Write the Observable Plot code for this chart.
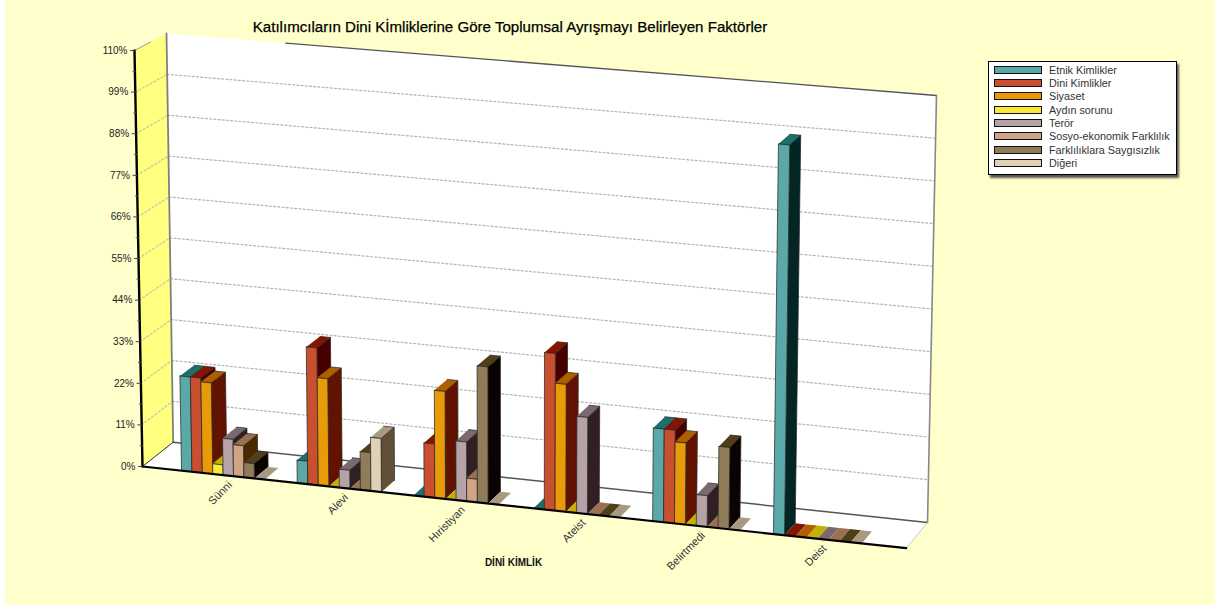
<!DOCTYPE html>
<html lang="tr">
<head>
<meta charset="utf-8">
<script src="https://cdn.jsdelivr.net/npm/d3@7"></script>
<script src="https://cdn.jsdelivr.net/npm/@observablehq/plot@0.6"></script>
<style>
html,body{margin:0;padding:0;background:#fff;width:1215px;height:608px;overflow:hidden;font-family:"Liberation Sans",Arial,sans-serif}
#panel{position:absolute;left:5px;top:0;width:1210px;height:605px;background:#ffffcc}
#chart{position:absolute;left:0;top:0}
#chart svg{background:transparent;display:block}
#legend{position:absolute;left:988px;top:61px;width:187px;height:112px;background:#fff;border:1px solid #000;box-shadow:2px 3px 2px #555;box-sizing:content-box}
.row{position:absolute;left:5px;height:13px;display:flex;align-items:center;font-size:10.8px;color:#333;white-space:nowrap}
.sw{width:46px;height:6px;border:1px solid #111;margin-right:7px;flex:none}
</style>
</head>
<body>
<div id="panel"></div>
<div id="chart"></div>
<div id="legend"></div>
<script>
const categories = ["Sünni","Alevi","Hıristiyan","Ateist","Belirtmedi","Deist"];
const seriesNames = ["Etnik Kimlikler","Dini Kimlikler","Siyaset","Aydın sorunu","Terör","Sosyo-ekonomik Farklılık","Farklılıklara Saygısızlık","Diğeri"];
const etnik  = [25,   6,    0,    0,    24, 100];
const dini   = [25,   36,   14,   40.7, 24, 0];
const siyaset= [24,   28.2, 28,   33,   21, 0];
const aydin  = [2.7,  0,    0,    0,    0,  0];
const teror  = [9.7,  4.8,  15.4, 25,   8,  0];
const sosyo  = [8.3,  0,    6,    0,    0,  0];
const saygi  = [3.9,  10,   35.5, 0,    21, 0];
const diger  = [0,    14,   0,    0,    0,  0];
const seriesValues = [etnik,dini,siyaset,aydin,teror,sosyo,saygi,diger];
const frontColors = ["#5ba8a8","#c9502f","#e99a08","#f8e838","#b5a3a8","#d0a484","#8f7d5a","#e0d0b8"];
const topColors   = ["#1f6e6c","#851400","#b05f00","#c4b000","#7a6a70","#9b7050","#50401a","#a89a80"];
const sideColors  = ["#032524","#470000","#621300","#6a6000","#302022","#4a2800","#0b0300","#5f5038"];
const yTicks = [0,11,22,33,44,55,66,77,88,99,110];
const minorTicks = d3.range(5.5,110,11);

// perspective box of the 3D chart: each corner of the front and back planes
const frontBL=[142,466], frontBR=[905.7,547.7], frontTL=[134,50], frontTR=[914,116];
const backBL=[172.7,441.7], backBR=[927,522], backTL=[166,33], backTR=[936,95];
const lerp=(a,b,t)=>a+(b-a)*t, lerp2=(p,q,t)=>[lerp(p[0],q[0],t),lerp(p[1],q[1],t)];
// u along the category axis (0..1), value in percent, w depth (0 front .. 1 back)
function P(u,value,w){
  const v=value/110;
  const f=lerp2(lerp2(frontBL,frontBR,u),lerp2(frontTL,frontTR,u),v);
  const b=lerp2(lerp2(backBL,backBR,u),lerp2(backTL,backTR,u),v);
  return lerp2(f,b,w);
}
const groupStarts=[0.0511,0.2026,0.3548,0.512,0.668,0.8262];
const barStep=i=>0.01362*(1+0.012*i), barDepth=0.47;

let polyId=0;
let polys=[];
function poly(corners,fill,stroke){
  const id=polyId++;
  corners.forEach(c=>{const p=P(c[0],c[1],c[2]);polys.push({id,x:p[0],y:p[1],fill,stroke});});
}
let segs=[];
let segId=0;
function seg(a,b,stroke,width,dash){
  const id=segId++;
  [a,b].forEach(c=>{const p=P(c[0],c[1],c[2]);segs.push({id,x:p[0],y:p[1],stroke,width,dash});});
}
// walls and floor
poly([[0,0,0],[0,110,0],[0,110,1],[0,0,1]],"#ffff80","none");
poly([[0,0,1],[0,110,1],[1,110,1],[1,0,1]],"#ffffff","none");
poly([[0,0,0],[1,0,0],[1,0,1],[0,0,1]],"#ffffff","none");
const wallPolys=polys; polys=[];
// gridlines
yTicks.slice(1,-1).forEach(t=>{
  seg([0,t,0],[0,t,1],"#c4c4a8",1.2,"2 2.2");
  seg([0,t,1],[1,t,1],"#b4b4b4",1.2,"2 2.2");
});
seg([0.155,110,1],[1,110,1],"#555",1.3,null);
seg([1,110,1],[1,0,1],"#888",1.6,null);
seg([0,110,1],[0,0,1],"#808080",1.8,null);
seg([0,0,1],[1,0,1],"#555",1.5,null);
seg([1,0,0],[1,0,1],"#ccc",1,null);
seg([0,110,0],[0,110,0.5],"#999",1,null);
seg([0,0,0],[0,0,1],"#333",1,null);
const wallSegs=segs; segs=[];
// bars, painted from left to right
categories.forEach((c,i)=>{
  seriesNames.forEach((s,j)=>{
    const val=seriesValues[j][i];
    const u0=groupStarts[i]+j*barStep(i), u1=u0+barStep(i), d=barDepth;
    const edge=val>0?"#2a2a2a":"none";
    poly([[u1,0,0],[u1,val,0],[u1,val,d],[u1,0,d]],sideColors[j],edge);
    poly([[u0,val,0],[u1,val,0],[u1,val,d],[u0,val,d]],topColors[j],edge);
    poly([[u0,0,0],[u0,val,0],[u1,val,0],[u1,0,0]],frontColors[j],edge);
  });
});
const barPolys=polys;
// axes on top
seg([0,0,0],[0,110,0],"#000",2.4,null);
seg([0,0,0],[1,0,0],"#000",2.2,null);
yTicks.forEach(t=>{const p=P(0,t,0);segs.push({id:"t"+t,x:p[0]-4,y:p[1],stroke:"#444",width:1,dash:null},{id:"t"+t,x:p[0],y:p[1],stroke:"#444",width:1,dash:null});});
minorTicks.forEach(t=>{const p=P(0,t,0);segs.push({id:"m"+t,x:p[0]-2,y:p[1],stroke:"#555",width:1,dash:null},{id:"m"+t,x:p[0],y:p[1],stroke:"#555",width:1,dash:null});});

const lineMark=(data)=>d3.groups(data,d=>d.id).map(([id,pts])=>Plot.line(pts,{x:"x",y:"y",stroke:pts[0].stroke,strokeWidth:pts[0].width,strokeDasharray:pts[0].dash||undefined}));
const polyMark=(data)=>Plot.line(data,{x:"x",y:"y",z:"id",fill:"fill",stroke:"stroke",strokeWidth:0.75,strokeLinejoin:"round"});

const yLabels=yTicks.map(t=>{const p=P(0,t,0);return {x:p[0]-7,y:p[1],label:t+"%"};});
const catLabels=categories.map((c,i)=>{const p=P(groupStarts[i]+4*barStep(i),0,0);return {x:p[0]+7,y:p[1]+8,label:c};});

const chart=Plot.plot({
  width:1215,height:608,margin:0,
  x:{type:"linear",domain:[0,1215],range:[0,1215],axis:null},
  y:{type:"linear",domain:[0,608],range:[0,608],axis:null},
  color:{type:"identity"},
  style:{background:"transparent",fontFamily:"'Liberation Sans',Arial,sans-serif"},
  marks:[
    polyMark(wallPolys),
    ...lineMark(wallSegs),
    polyMark(barPolys),
    ...lineMark(segs),
    Plot.text(yLabels,{x:"x",y:"y",text:"label",textAnchor:"end",fontSize:10,fill:"#222"}),
    Plot.text(catLabels,{x:"x",y:"y",text:"label",textAnchor:"end",rotate:-45,fontSize:11,fill:"#333"}),
    Plot.text(["Katılımcıların Dini Kİmliklerine Göre Toplumsal Ayrışmayı Belirleyen Faktörler"],{x:()=>509.5,y:()=>27,fontSize:15.1,fill:"#000",stroke:"#000",strokeWidth:0.25}),
    Plot.text(["DİNİ KİMLİK"],{x:()=>513,y:()=>562,fontSize:10,fontWeight:"bold",fill:"#111"})
  ]
});
document.getElementById("chart").appendChild(chart);

const legend=document.getElementById("legend");
seriesNames.forEach((s,j)=>{
  const r=document.createElement("div");r.className="row";r.style.top=(1+j*13.35)+"px";
  const sw=document.createElement("span");sw.className="sw";sw.style.background=frontColors[j];
  const t=document.createElement("span");t.textContent=s;
  r.append(sw,t);legend.appendChild(r);
});
</script>
</body>
</html>
